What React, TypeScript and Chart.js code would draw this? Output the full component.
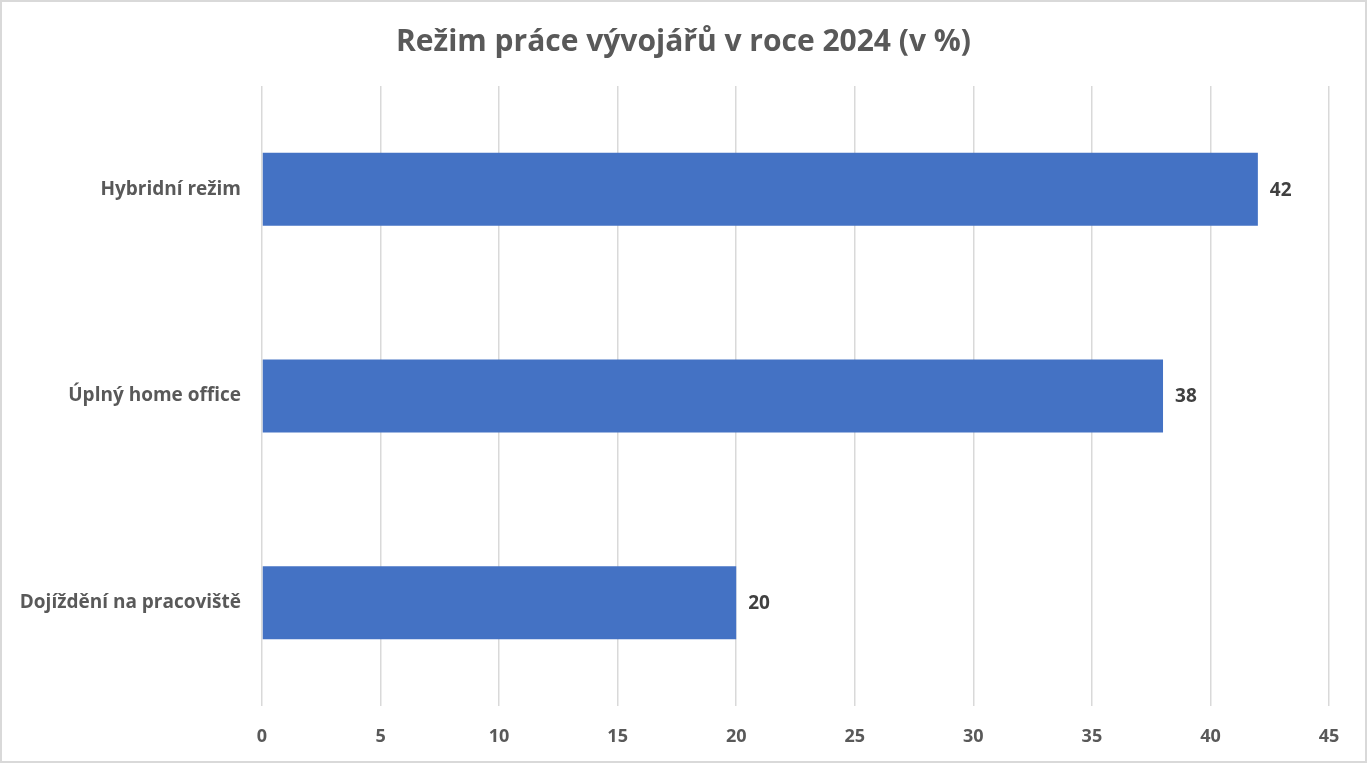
import React, { useEffect, useRef } from "react";
import { Chart, registerables } from "chart.js";

Chart.register(...registerables);

const categories = ["Hybridní režim", "Úplný home office", "Dojíždění na pracoviště"];
const values = [42, 38, 20];
const titleText = "Režim práce vývojářů v roce 2024 (v %)";
const axisMax = 45;
const axisStep = 5;

const FONT = "'Open Sans', 'Noto Sans', sans-serif";

const valueLabels = {
  id: "valueLabels",
  afterDatasetsDraw(chart: any) {
    const ctx = chart.ctx;
    const meta = chart.getDatasetMeta(0);
    ctx.save();
    ctx.font = `700 19px ${FONT}`;
    ctx.fillStyle = "#404040";
    ctx.textAlign = "left";
    ctx.textBaseline = "middle";
    meta.data.forEach((el: any, i: number) => {
      ctx.fillText(String(chart.data.datasets[0].data[i]), el.x + 12, el.y + 1);
    });
    ctx.restore();
  },
};

export default function App() {
  const ref = useRef<HTMLCanvasElement>(null);
  useEffect(() => {
    if (!ref.current) return;
    const chart = new Chart(ref.current, {
      type: "bar",
      data: {
        labels: categories,
        datasets: [
          {
            data: values,
            backgroundColor: "#4472C4",
            borderWidth: 0,
            barPercentage: 0.353,
            categoryPercentage: 1,
          },
        ],
      },
      options: {
        indexAxis: "y",
        animation: false,
        responsive: false,
        maintainAspectRatio: false,
        layout: { padding: 0 },
        plugins: {
          legend: { display: false },
          tooltip: { enabled: false },
          title: {
            display: true,
            text: titleText,
            color: "#595959",
            font: { family: FONT, size: 30, weight: "700" },
            padding: { top: 24, bottom: 26 },
          },
        },
        scales: {
          x: {
            min: 0,
            max: axisMax,
            ticks: {
              stepSize: axisStep,
              color: "#595959",
              font: { family: FONT, size: 18, weight: "700" },
              padding: 20,
            },
            grid: { color: "#d9d9d9", lineWidth: 1.5, drawTicks: false },
            border: { display: false },
            afterFit: (s: any) => {
              s.height = 57;
            },
          },
          y: {
            ticks: {
              color: "#595959",
              font: { family: FONT, size: 19, weight: "700" },
              padding: 21,
            },
            grid: { display: false, drawTicks: false },
            border: { display: false },
            afterFit: (s: any) => {
              s.width = 262;
            },
          },
          yRight: {
            type: "linear",
            position: "right",
            display: true,
            ticks: { display: false },
            grid: { display: false, drawTicks: false },
            border: { display: false },
            afterFit: (s: any) => {
              s.width = 38;
            },
          },
        },
      },
      plugins: [valueLabels],
    });
    return () => chart.destroy();
  }, []);
  return (
    <div style={{ position: "absolute", left: 0, top: 0, width: 1367, height: 763, background: "#fff" }}>
      <canvas ref={ref} width={1367} height={763} style={{ position: "absolute", left: 0, top: 0 }} />
      <div
        style={{
          position: "absolute",
          left: 0,
          top: 0,
          width: 1367,
          height: 763,
          boxSizing: "border-box",
          border: "2px solid #d9d9d9",
          pointerEvents: "none",
        }}
      />
    </div>
  );
}
